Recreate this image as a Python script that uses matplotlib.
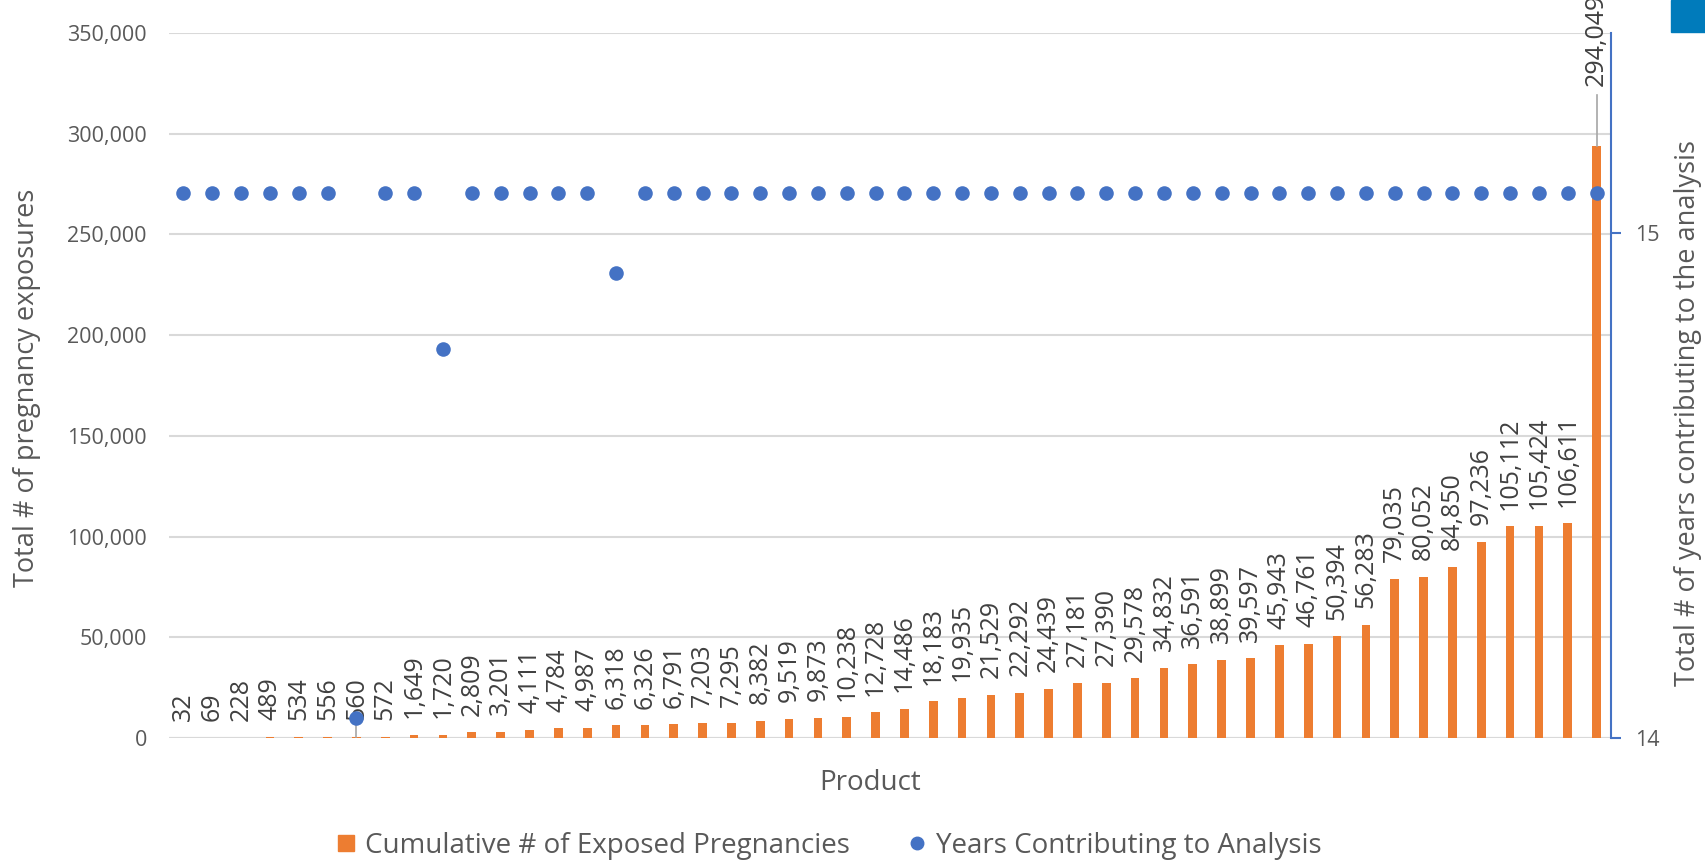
import numpy as np
import matplotlib
matplotlib.use("Agg")
import matplotlib.pyplot as plt
from matplotlib.lines import Line2D
from matplotlib.patches import Rectangle

plt.rcParams["font.family"] = ["Open Sans", "DejaVu Sans"]

# ── Data ─────────────────────────────────────────────────────────────────────
exposed = [32, 69, 228, 489, 534, 556, 560, 572, 1649, 1720,
           2809, 3201, 4111, 4784, 4987, 6318, 6326, 6791, 7203, 7295,
           8382, 9519, 9873, 10238, 12728, 14486, 18183, 19935, 21529, 22292,
           24439, 27181, 27390, 29578, 34832, 36591, 38899, 39597, 45943, 46761,
           50394, 56283, 79035, 80052, 84850, 97236, 105112, 105424, 106611, 294049]
years = [15.08] * 50
years[6] = 14.04
years[9] = 14.77
years[15] = 14.92

left_ticks = [0, 50000, 100000, 150000, 200000, 250000, 300000, 350000]
right_ticks = [14, 15]

BAR = "#ED7D31"
DOT = "#4472C4"
TXT = "#595959"
LBL = "#404040"
GRID = "#D9D9D9"

W, H = 1705, 864

# ── Figure ───────────────────────────────────────────────────────────────────
fig = plt.figure(figsize=(W / 100, H / 100), dpi=100)
ax = fig.add_axes([169 / W, 126 / H, 1442 / W, 705 / H])
x = np.arange(len(exposed))

ax.bar(x, exposed, width=0.3, color=BAR, zorder=2)
ax.set_xlim(-0.5, len(exposed) - 0.5)
ax.set_ylim(0, 350000)
ax.set_yticks(left_ticks)
ax.set_yticklabels([f"{t:,}" for t in left_ticks], fontsize=15.5, color=TXT)
ax.tick_params(axis="y", length=0, pad=16)
ax.set_xticks([])
ax.grid(axis="y", color=GRID, linewidth=1.5, zorder=0)
for s in ["top", "left", "right", "bottom"]:
    ax.spines[s].set_visible(False)
ax.axhline(0, color=GRID, linewidth=1.5, zorder=1)

# data labels
for i, v in enumerate(exposed[:-1]):
    ax.annotate(f"{v:,}", (i, v), xytext=(0, 12), textcoords="offset points",
                rotation=90, ha="center", va="bottom", fontsize=18, color=LBL,
                zorder=3)
# leader line for the small label hidden behind the dot
ax.plot([6, 6], [exposed[6], exposed[6] + 8500], color="#A6A6A6", lw=1.2, zorder=2)
# last label moved up with leader line
last = len(exposed) - 1
ax.annotate(f"{exposed[last]:,}", (last, exposed[last]), xytext=(last, 323500),
            rotation=90, ha="center", va="bottom", fontsize=18, color=LBL,
            annotation_clip=False, zorder=3)
ax.plot([last, last], [exposed[last], 319000], color="#A6A6A6", lw=1.2,
        zorder=3, clip_on=False)

fig.text(27 / W, 1 - 388 / H, "Total # of pregnancy exposures", rotation=90,
         ha="center", va="center", fontsize=19.5, color=TXT)
fig.text(870 / W, 1 - 783 / H, "Product", ha="center", va="center",
         fontsize=20, color=TXT)
fig.text(1688 / W, 1 - 413 / H, "Total # of years contributing to the analysis",
         rotation=90, ha="center", va="center", fontsize=19.5, color=TXT)

# ── Secondary axis ───────────────────────────────────────────────────────────
ax2 = ax.twinx()
ax2.scatter(x, years, s=110, color=DOT, zorder=4, linewidths=0)
ax2.set_ylim(14, 14 + 705 / 505)
ax2.set_yticks(right_ticks)
ax2.set_yticklabels([str(t) for t in right_ticks], fontsize=15.5, color=TXT)
ax2.tick_params(axis="y", color=DOT, length=7, width=1.5, pad=10)
for s in ["top", "left", "bottom"]:
    ax2.spines[s].set_visible(False)
ax2.spines["right"].set_color(DOT)
ax2.spines["right"].set_linewidth(1.5)

# ── Legend ───────────────────────────────────────────────────────────────────
handles = [
    Line2D([], [], marker="s", linestyle="none", color=BAR, markersize=12),
    Line2D([], [], marker="o", linestyle="none", color=DOT, markersize=9),
]
fig.legend(handles, ["Cumulative # of Exposed Pregnancies", "Years Contributing to Analysis"],
           loc="center", bbox_to_anchor=(828 / W, 1 - 846 / H), ncol=2,
           frameon=False, fontsize=20, labelcolor=TXT, handlelength=0.8,
           handletextpad=0.3, columnspacing=2.0)

# top-right badge
fig.patches.append(Rectangle((1671 / W, 1 - 32 / H), 34 / W, 32 / H,
                             transform=fig.transFigure, color="#007BBB"))

fig.savefig("out.png", dpi=100)
